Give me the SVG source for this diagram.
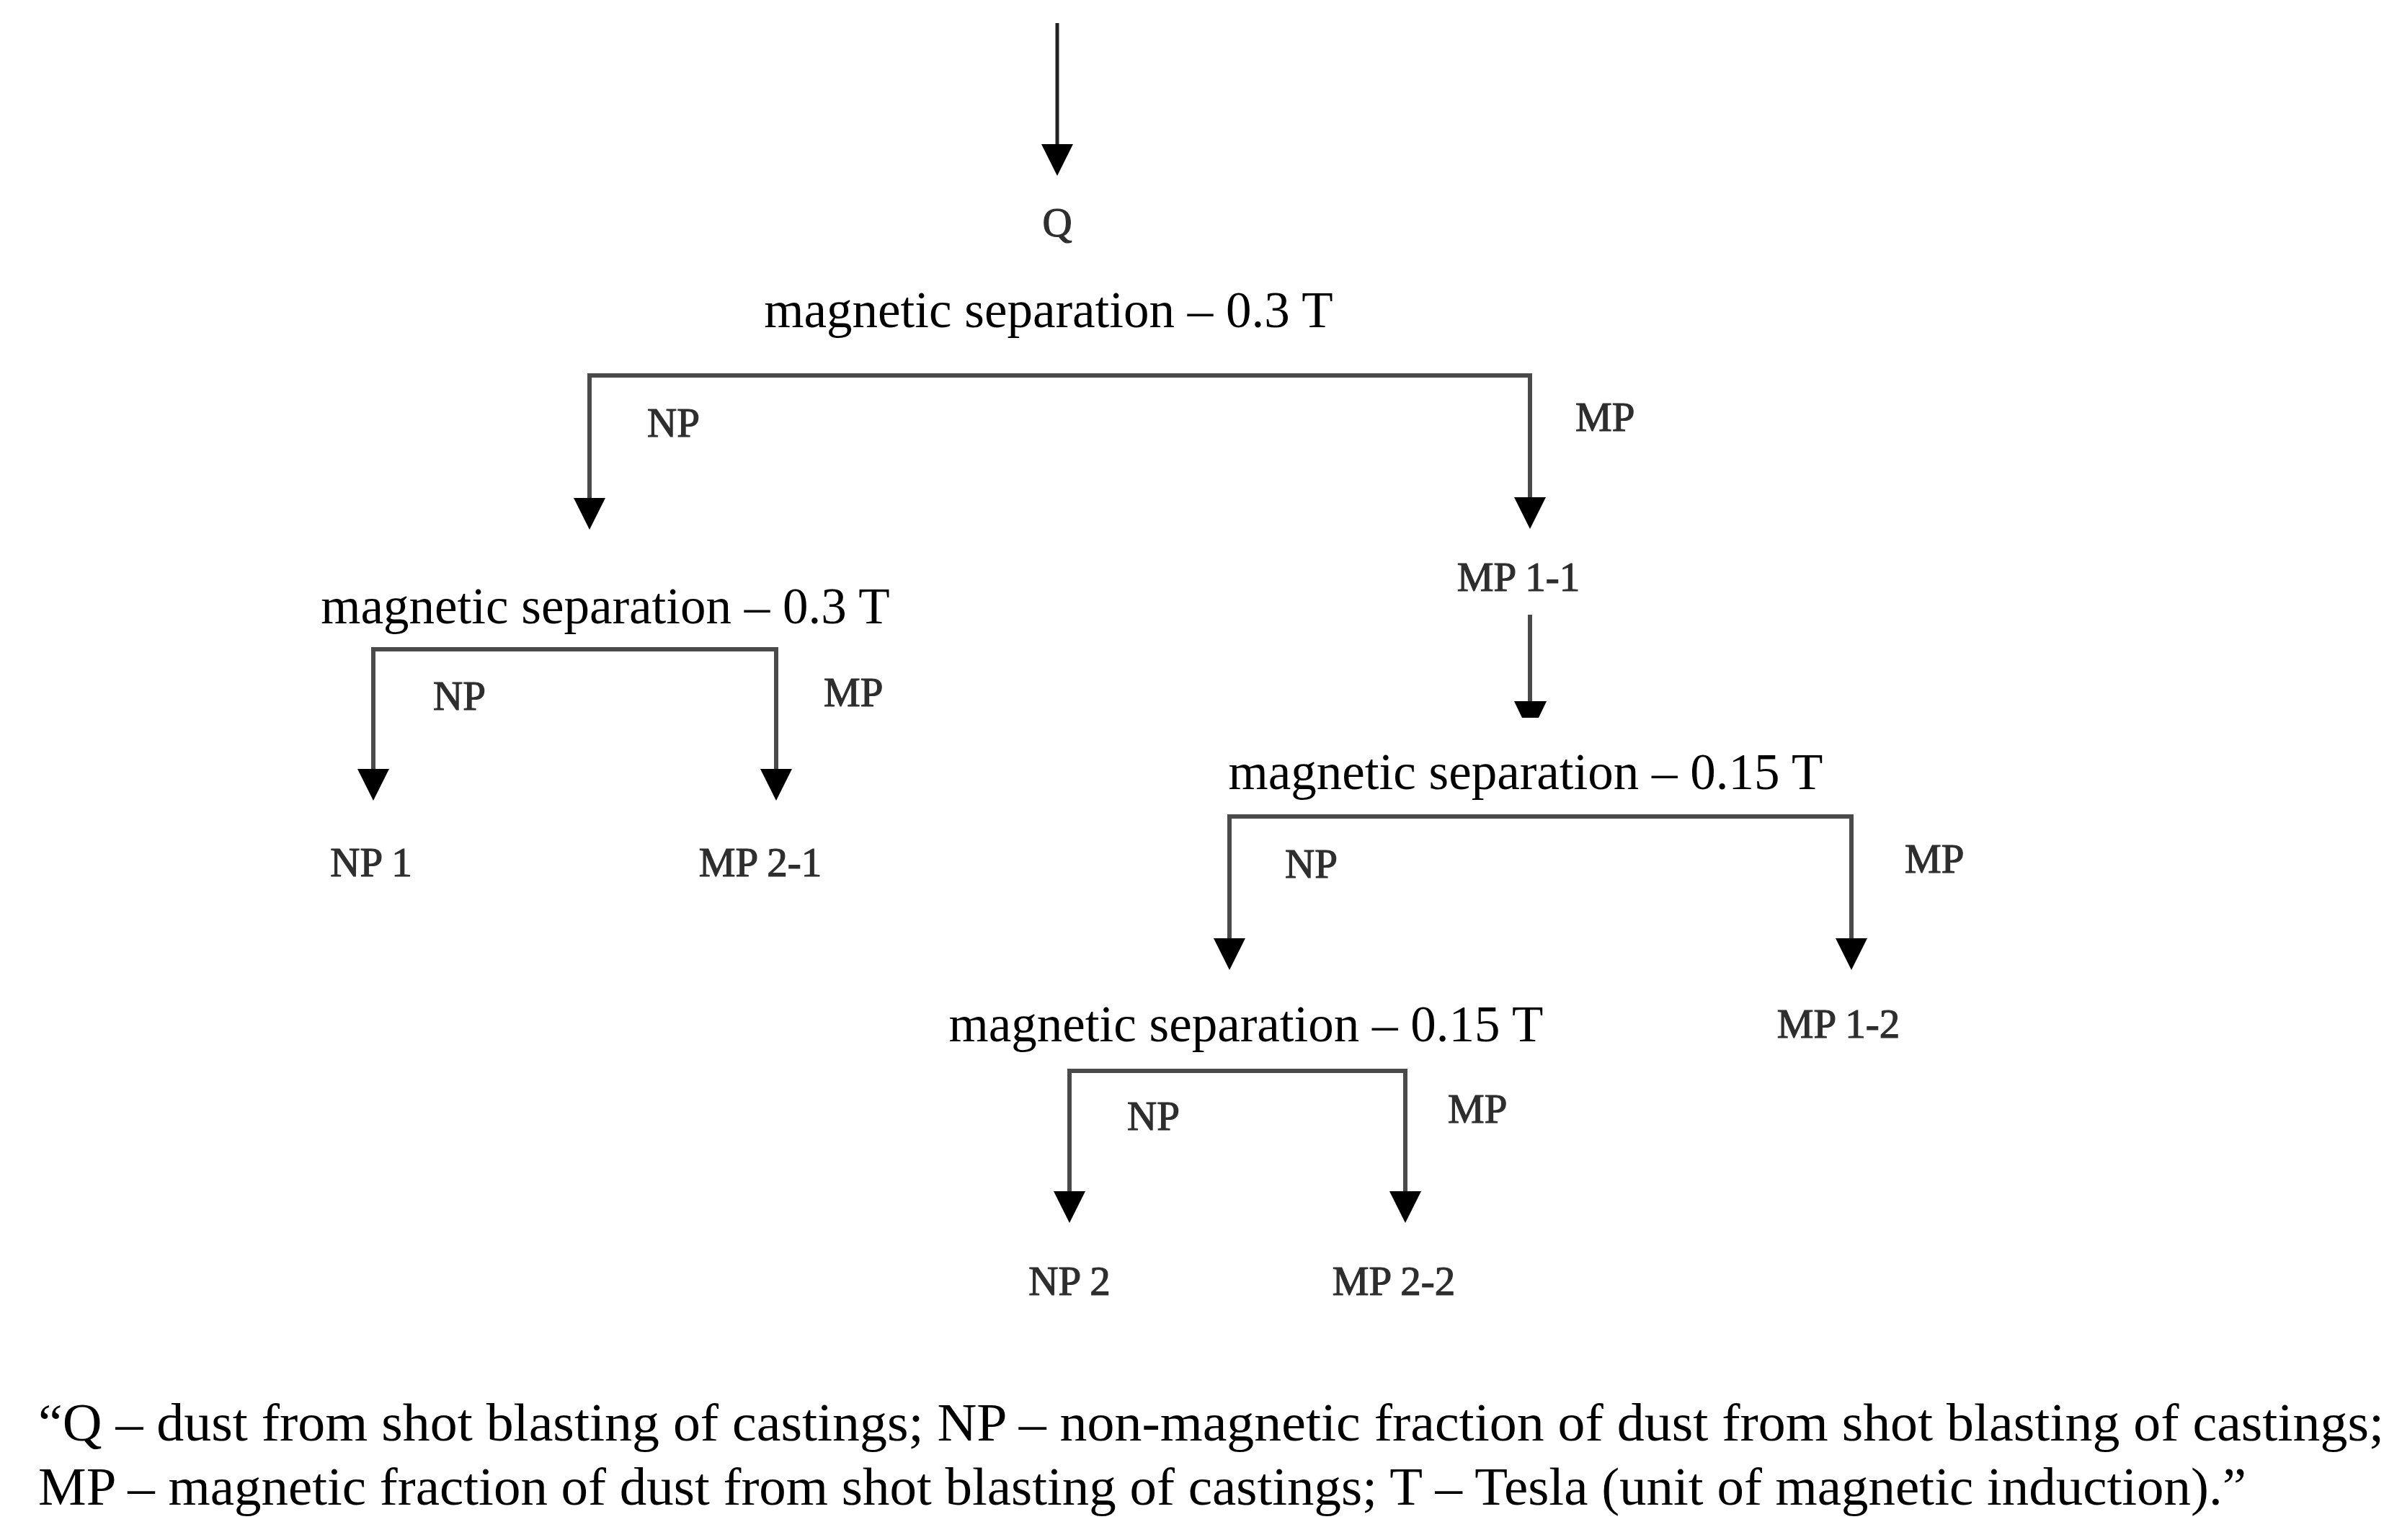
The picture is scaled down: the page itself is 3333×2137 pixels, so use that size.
<svg xmlns="http://www.w3.org/2000/svg" xmlns:xlink="http://www.w3.org/1999/xlink" width="3333" height="2137" viewBox="0 0 3333 2137">
<defs>
<style>
.sep{font-family:"Liberation Serif","Times New Roman",serif;font-size:71px;fill:#000;text-anchor:middle}
.lbl{font-family:"Liberation Serif","Times New Roman",serif;font-size:57px;fill:#2e2e2e;stroke:#2e2e2e;stroke-width:1.2}
.lblc{text-anchor:middle}
.leg{font-family:"Liberation Serif","Times New Roman",serif;font-size:75px;fill:#000}
.ln{stroke:#4a4a4a;stroke-width:6;fill:none;stroke-linecap:square}
.top{stroke:#222;stroke-width:5;fill:none}
.ah{fill:#000}
</style>
<path id="ah" d="M-22,-44 L22,-44 L0,0 Z"/>
</defs>
<rect width="3333" height="2137" fill="#fff"/>

<g id="connectors">
  <line class="top" x1="1467" y1="32" x2="1467" y2="200"/>
  <use xlink:href="#ah" class="ah" x="1467" y="244"/>

  <path class="ln" d="M818,691 V521 H2123 V690"/>
  <use xlink:href="#ah" class="ah" x="818" y="735"/>
  <use xlink:href="#ah" class="ah" x="2123" y="734"/>

  <line class="ln" x1="2123" y1="856" x2="2123" y2="975"/>
  <polygon class="ah" points="2101,973 2146,973 2135,996 2112,996"/>

  <path class="ln" d="M518,1067 V901 H1077 V1067"/>
  <use xlink:href="#ah" class="ah" x="518" y="1111"/>
  <use xlink:href="#ah" class="ah" x="1077" y="1111"/>

  <path class="ln" d="M1706,1302 V1133 H2569 V1302"/>
  <use xlink:href="#ah" class="ah" x="1706" y="1346"/>
  <use xlink:href="#ah" class="ah" x="2569" y="1346"/>

  <path class="ln" d="M1484,1653 V1486 H1950 V1653"/>
  <use xlink:href="#ah" class="ah" x="1484" y="1697"/>
  <use xlink:href="#ah" class="ah" x="1950" y="1697"/>
</g>

<g id="node-q"><text class="lbl lblc" x="1467" y="328">Q</text></g>
<g id="node-sep1"><text class="sep" x="1455" y="454">magnetic separation – 0.3 T</text></g>
<g id="label-np1"><text class="lbl" x="898" y="606">NP</text></g>
<g id="label-mp1"><text class="lbl" x="2186" y="598">MP</text></g>
<g id="node-mp11"><text class="lbl lblc" x="2107" y="820">MP 1-1</text></g>

<g id="node-sep2a"><text class="sep" x="840" y="865">magnetic separation – 0.3 T</text></g>
<g id="label-np2a"><text class="lbl" x="601" y="985">NP</text></g>
<g id="label-mp2a"><text class="lbl" x="1143" y="980">MP</text></g>
<g id="node-np1"><text class="lbl lblc" x="515" y="1216">NP 1</text></g>
<g id="node-mp21"><text class="lbl lblc" x="1055" y="1216">MP 2-1</text></g>

<g id="node-sep2b"><text class="sep" x="2117" y="1095">magnetic separation – 0.15 T</text></g>
<g id="label-np2b"><text class="lbl" x="1783" y="1218">NP</text></g>
<g id="label-mp2b"><text class="lbl" x="2643" y="1211">MP</text></g>
<g id="node-mp12"><text class="lbl lblc" x="2551" y="1440">MP 1-2</text></g>

<g id="node-sep3"><text class="sep" x="1729" y="1445">magnetic separation – 0.15 T</text></g>
<g id="label-np3"><text class="lbl" x="1564" y="1568">NP</text></g>
<g id="label-mp3"><text class="lbl" x="2009" y="1558">MP</text></g>
<g id="node-np2"><text class="lbl lblc" x="1484" y="1797">NP 2</text></g>
<g id="node-mp22"><text class="lbl lblc" x="1934" y="1797">MP 2-2</text></g>

<g id="legend">
  <text class="leg" x="53" y="1999" textLength="3255" lengthAdjust="spacingAndGlyphs">“Q – dust from shot blasting of castings; NP – non-magnetic fraction of dust from shot blasting of castings;</text>
  <text class="leg" x="53" y="2088" textLength="3064" lengthAdjust="spacingAndGlyphs">MP – magnetic fraction of dust from shot blasting of castings; T – Tesla (unit of magnetic induction).”</text>
</g>
</svg>
